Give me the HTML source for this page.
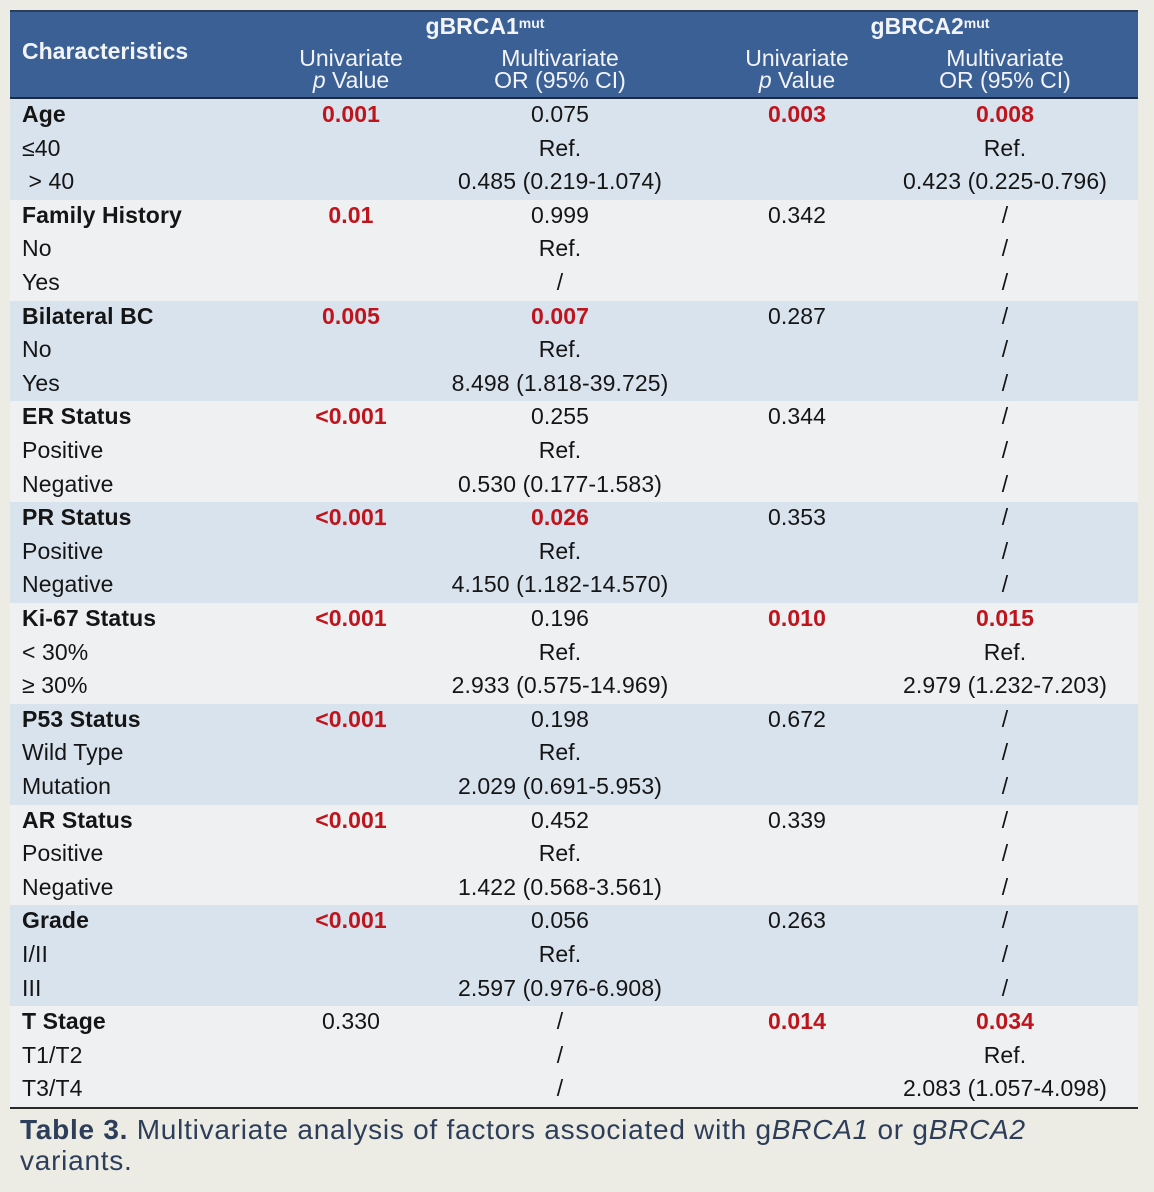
<!DOCTYPE html>
<html><head><meta charset="utf-8"><style>
body{margin:0;width:1154px;height:1192px;background:#ecebe4;position:relative;overflow:hidden;font-family:"Liberation Sans",Arial,sans-serif;}
#hdr{position:absolute;left:10px;top:10px;width:1128px;height:88px;background:#3b6096;border-top:2px solid #2a3f60;}
#line{position:absolute;left:10px;top:97px;width:1128px;height:2px;background:#1d2a3c;}
.h{position:absolute;color:#f2f4f8;font-size:23px;line-height:22px;text-align:center;}
.grp{position:absolute;left:10px;width:1128px;height:100.8px;}
.b{background:#d9e3ee}.w{background:#eef0f2}
.r{position:absolute;left:0;width:1154px;height:33.6px;line-height:30px;font-size:23px;letter-spacing:0.1px;color:#151515;}
.r span{position:absolute;top:0;text-align:center;}
.l{left:22px;text-align:left!important}
.c1{left:251px;width:200px}.c2{left:420px;width:280px}.c3{left:697px;width:200px}.c4{left:865px;width:280px}
.bo{font-weight:bold}
.red{color:#c0141c;font-weight:bold}
#bot{position:absolute;left:10px;top:1107px;width:1128px;height:2px;background:#2a2a2a;}
#cap{position:absolute;left:20px;top:1114px;font-size:28px;line-height:31px;color:#2d3e5a;width:1120px;letter-spacing:0.75px;}
</style></head><body>
<div id="hdr"></div>
<div class="h" style="left:22px;top:40px;text-align:left;font-weight:bold;">Characteristics</div>
<div class="h" style="left:385px;top:12px;width:200px;font-weight:bold;">gBRCA1<sup style="font-size:14px;vertical-align:6px">mut</sup></div>
<div class="h" style="left:830px;top:12px;width:200px;font-weight:bold;">gBRCA2<sup style="font-size:14px;vertical-align:6px">mut</sup></div>
<div class="h" style="left:251px;top:47px;width:200px;">Univariate<br><i>p</i> Value</div>
<div class="h" style="left:420px;top:47px;width:280px;">Multivariate<br>OR (95% CI)</div>
<div class="h" style="left:697px;top:47px;width:200px;">Univariate<br><i>p</i> Value</div>
<div class="h" style="left:865px;top:47px;width:280px;">Multivariate<br>OR (95% CI)</div>
<div id="line"></div>

<div class="grp b" style="top:99px"></div>
<div class="grp w" style="top:199.8px"></div>
<div class="grp b" style="top:300.6px"></div>
<div class="grp w" style="top:401.4px"></div>
<div class="grp b" style="top:502.2px"></div>
<div class="grp w" style="top:603px"></div>
<div class="grp b" style="top:703.8px"></div>
<div class="grp w" style="top:804.6px"></div>
<div class="grp b" style="top:905.4px"></div>
<div class="grp w" style="top:1006.2px"></div>

<div class="r" style="top:99px"><span class="l bo">Age</span><span class="c1 red">0.001</span><span class="c2">0.075</span><span class="c3 red">0.003</span><span class="c4 red">0.008</span></div>
<div class="r" style="top:132.6px"><span class="l">≤40</span><span class="c2">Ref.</span><span class="c4">Ref.</span></div>
<div class="r" style="top:166.2px"><span class="l">&nbsp;&gt; 40</span><span class="c2">0.485 (0.219-1.074)</span><span class="c4">0.423 (0.225-0.796)</span></div>

<div class="r" style="top:199.8px"><span class="l bo">Family History</span><span class="c1 red">0.01</span><span class="c2">0.999</span><span class="c3">0.342</span><span class="c4">/</span></div>
<div class="r" style="top:233.4px"><span class="l">No</span><span class="c2">Ref.</span><span class="c4">/</span></div>
<div class="r" style="top:267px"><span class="l">Yes</span><span class="c2">/</span><span class="c4">/</span></div>

<div class="r" style="top:300.6px"><span class="l bo">Bilateral BC</span><span class="c1 red">0.005</span><span class="c2 red">0.007</span><span class="c3">0.287</span><span class="c4">/</span></div>
<div class="r" style="top:334.2px"><span class="l">No</span><span class="c2">Ref.</span><span class="c4">/</span></div>
<div class="r" style="top:367.8px"><span class="l">Yes</span><span class="c2">8.498 (1.818-39.725)</span><span class="c4">/</span></div>

<div class="r" style="top:401.4px"><span class="l bo">ER Status</span><span class="c1 red">&lt;0.001</span><span class="c2">0.255</span><span class="c3">0.344</span><span class="c4">/</span></div>
<div class="r" style="top:435px"><span class="l">Positive</span><span class="c2">Ref.</span><span class="c4">/</span></div>
<div class="r" style="top:468.6px"><span class="l">Negative</span><span class="c2">0.530 (0.177-1.583)</span><span class="c4">/</span></div>

<div class="r" style="top:502.2px"><span class="l bo">PR Status</span><span class="c1 red">&lt;0.001</span><span class="c2 red">0.026</span><span class="c3">0.353</span><span class="c4">/</span></div>
<div class="r" style="top:535.8px"><span class="l">Positive</span><span class="c2">Ref.</span><span class="c4">/</span></div>
<div class="r" style="top:569.4px"><span class="l">Negative</span><span class="c2">4.150 (1.182-14.570)</span><span class="c4">/</span></div>

<div class="r" style="top:603px"><span class="l bo">Ki-67 Status</span><span class="c1 red">&lt;0.001</span><span class="c2">0.196</span><span class="c3 red">0.010</span><span class="c4 red">0.015</span></div>
<div class="r" style="top:636.6px"><span class="l">&lt; 30%</span><span class="c2">Ref.</span><span class="c4">Ref.</span></div>
<div class="r" style="top:670.2px"><span class="l">≥ 30%</span><span class="c2">2.933 (0.575-14.969)</span><span class="c4">2.979 (1.232-7.203)</span></div>

<div class="r" style="top:703.8px"><span class="l bo">P53 Status</span><span class="c1 red">&lt;0.001</span><span class="c2">0.198</span><span class="c3">0.672</span><span class="c4">/</span></div>
<div class="r" style="top:737.4px"><span class="l">Wild Type</span><span class="c2">Ref.</span><span class="c4">/</span></div>
<div class="r" style="top:771px"><span class="l">Mutation</span><span class="c2">2.029 (0.691-5.953)</span><span class="c4">/</span></div>

<div class="r" style="top:804.6px"><span class="l bo">AR Status</span><span class="c1 red">&lt;0.001</span><span class="c2">0.452</span><span class="c3">0.339</span><span class="c4">/</span></div>
<div class="r" style="top:838.2px"><span class="l">Positive</span><span class="c2">Ref.</span><span class="c4">/</span></div>
<div class="r" style="top:871.8px"><span class="l">Negative</span><span class="c2">1.422 (0.568-3.561)</span><span class="c4">/</span></div>

<div class="r" style="top:905.4px"><span class="l bo">Grade</span><span class="c1 red">&lt;0.001</span><span class="c2">0.056</span><span class="c3">0.263</span><span class="c4">/</span></div>
<div class="r" style="top:939px"><span class="l">I/II</span><span class="c2">Ref.</span><span class="c4">/</span></div>
<div class="r" style="top:972.6px"><span class="l">III</span><span class="c2">2.597 (0.976-6.908)</span><span class="c4">/</span></div>

<div class="r" style="top:1006.2px"><span class="l bo">T Stage</span><span class="c1">0.330</span><span class="c2">/</span><span class="c3 red">0.014</span><span class="c4 red">0.034</span></div>
<div class="r" style="top:1039.8px"><span class="l">T1/T2</span><span class="c2">/</span><span class="c4">Ref.</span></div>
<div class="r" style="top:1073.4px"><span class="l">T3/T4</span><span class="c2">/</span><span class="c4">2.083 (1.057-4.098)</span></div>

<div id="bot"></div>
<div id="cap"><b>Table 3.</b> Multivariate analysis of factors associated with g<i>BRCA1</i> or g<i>BRCA2</i><br>variants.</div>
</body></html>
